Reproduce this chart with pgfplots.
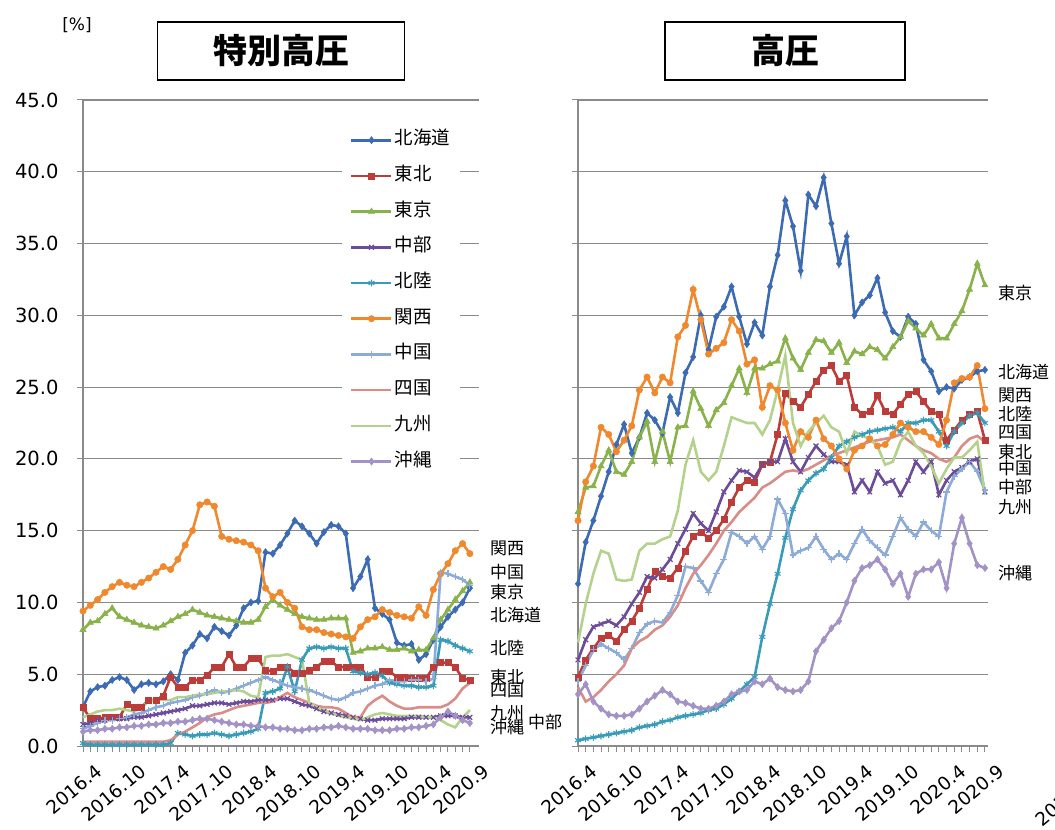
\documentclass[border=0pt]{standalone}
\usepackage{fontspec}
\setmainfont{DejaVu Sans}
\newfontfamily\jp{Noto Sans CJK JP}
\usepackage{pgfplots}
\pgfplotsset{compat=1.18}
\usepackage{pgfplotstable}
\usetikzlibrary{plotmarks}

\definecolor{cHok}{HTML}{3C6BB3}
\definecolor{cToh}{HTML}{BC3C3A}
\definecolor{cTok}{HTML}{8AB24A}
\definecolor{cChb}{HTML}{6C4C99}
\definecolor{cHkr}{HTML}{389BB7}
\definecolor{cKan}{HTML}{F0882E}
\definecolor{cChg}{HTML}{8CABD9}
\definecolor{cShk}{HTML}{DA8C88}
\definecolor{cKyu}{HTML}{B4D28B}
\definecolor{cOki}{HTML}{A292C6}
\definecolor{axgray}{HTML}{8A8A8A}

\pgfplotstableread{
i hok toh tok chb hkr kan chg shk kyu oki
0 2.7 2.7 8.1 1.5 0.2 9.4 1.2 0.3 2.0 1.0
1 3.8 1.9 8.6 1.6 0.1 9.8 1.4 0.3 2.2 1.1
2 4.1 1.9 8.7 1.8 0.1 10.2 1.6 0.3 2.4 1.1
3 4.2 2.0 9.2 1.8 0.1 10.7 1.8 0.3 2.5 1.2
4 4.6 2.0 9.6 1.9 0.1 11.1 1.8 0.3 2.5 1.2
5 4.8 2.0 9.0 1.9 0.1 11.4 1.9 0.3 2.6 1.3
6 4.6 2.9 8.8 1.9 0.1 11.2 2.0 0.3 2.5 1.3
7 3.9 2.7 8.6 2.0 0.1 11.1 2.2 0.3 2.4 1.4
8 4.3 2.7 8.4 2.0 0.1 11.4 2.3 0.3 2.7 1.4
9 4.4 3.2 8.3 2.1 0.1 11.7 2.5 0.3 3.1 1.5
10 4.3 3.2 8.2 2.2 0.1 12.1 2.7 0.3 3.3 1.5
11 4.5 3.5 8.4 2.3 0.1 12.5 2.8 0.3 3.2 1.6
12 5.0 4.8 8.7 2.4 0.2 12.3 3.0 0.4 3.2 1.6
13 4.6 4.1 9.0 2.5 0.9 13.0 3.1 0.8 3.4 1.7
14 6.5 4.1 9.2 2.6 0.8 14.0 3.2 1.0 3.4 1.7
15 7.0 4.6 9.5 2.8 0.7 15.0 3.4 1.3 3.5 1.8
16 7.8 4.6 9.3 2.8 0.8 16.8 3.5 1.6 3.6 1.9
17 7.5 4.9 9.1 2.9 0.8 17.0 3.7 2.0 3.6 1.9
18 8.3 5.5 9.0 3.0 0.9 16.7 3.9 2.2 3.7 1.8
19 8.0 5.5 8.9 3.0 0.8 14.6 3.7 2.3 3.8 1.7
20 7.7 6.4 8.8 2.9 0.7 14.4 3.8 2.5 3.8 1.6
21 8.4 5.5 8.7 3.0 0.8 14.3 4.0 2.7 3.9 1.5
22 9.6 5.5 8.6 3.1 0.9 14.2 4.2 2.8 3.8 1.5
23 10.0 6.1 8.6 3.1 1.0 14.0 4.4 2.9 3.5 1.4
24 10.1 6.1 8.8 3.2 1.2 13.6 4.6 3.0 3.4 1.4
25 13.5 5.3 9.7 3.2 3.7 11.0 4.8 3.0 6.2 1.3
26 13.4 5.2 10.2 3.2 3.8 10.4 4.6 3.1 6.3 1.3
27 14.0 5.5 9.8 3.3 4.0 10.7 4.4 3.4 6.3 1.2
28 14.8 5.5 9.5 3.3 5.5 10.0 4.2 3.7 6.4 1.2
29 15.7 5.1 9.2 3.1 3.8 9.6 4.1 3.4 6.2 1.1
30 15.3 5.1 9.0 2.9 6.0 8.3 4.0 3.2 6.0 1.1
31 14.8 5.3 8.9 2.8 6.8 8.1 3.9 3.0 3.0 1.2
32 14.1 5.5 8.8 2.6 6.9 8.1 3.7 2.8 2.7 1.2
33 14.9 5.9 8.8 2.4 6.8 7.9 3.5 2.7 2.5 1.3
34 15.4 5.9 8.9 2.3 6.9 7.8 3.3 2.7 2.3 1.3
35 15.3 5.5 8.9 2.2 6.8 7.7 3.2 2.6 2.1 1.4
36 14.8 5.5 8.9 2.1 6.8 7.6 3.4 2.3 2.0 1.3
37 11.0 5.5 6.5 2.0 5.2 7.5 3.7 2.0 1.9 1.2
38 11.8 5.5 6.6 1.9 5.1 8.3 3.8 2.0 1.8 1.2
39 13.0 4.8 6.8 1.8 5.0 8.8 4.0 2.8 2.0 1.2
40 9.6 4.8 6.8 1.8 5.1 9.0 4.2 3.2 2.2 1.1
41 9.2 5.2 6.9 1.9 4.9 9.5 4.3 3.5 2.3 1.1
42 8.8 5.2 6.7 1.9 4.4 9.3 4.6 3.1 2.2 1.1
43 7.2 4.8 6.7 1.9 4.3 9.1 4.5 2.8 2.1 1.2
44 7.0 4.8 6.8 1.9 4.2 9.0 4.5 2.6 2.1 1.2
45 7.1 4.7 6.6 2.0 4.2 8.9 4.6 2.6 2.1 1.3
46 6.0 4.7 6.7 2.0 4.1 9.7 4.6 2.7 2.1 1.3
47 6.4 4.7 6.7 2.0 4.1 9.1 4.5 2.7 2.0 1.4
48 7.4 5.5 7.5 2.0 4.2 10.9 4.7 2.7 2.0 1.5
49 8.3 5.8 8.8 2.1 7.4 12.0 12.1 2.7 1.8 2.0
50 9.0 5.8 9.5 2.1 7.3 12.7 12.0 2.9 1.5 2.4
51 9.5 5.5 10.2 2.1 7.0 13.6 11.8 3.3 1.3 2.1
52 10.0 4.7 10.8 2.0 6.8 14.1 11.6 4.0 2.0 1.8
53 11.0 4.6 11.4 2.0 6.6 13.4 11.2 4.4 2.5 1.6
}\Ltab

\pgfplotstableread{
i hok toh tok chb hkr kan chg shk kyu oki
0 11.3 4.8 16.3 6.0 0.4 15.7 4.5 4.1 7.2 3.6
1 14.2 6.0 18.0 7.4 0.5 18.4 5.6 3.1 9.9 4.3
2 15.7 6.8 18.1 8.3 0.6 19.5 6.7 3.4 12.0 3.1
3 17.4 7.5 19.5 8.5 0.7 22.2 7.1 3.9 13.6 2.6
4 19.1 7.7 20.6 8.7 0.8 21.7 6.8 4.5 13.4 2.2
5 21.0 7.3 19.1 8.4 0.9 20.5 6.5 5.0 11.6 2.1
6 22.4 8.1 18.9 9.0 1.0 21.3 6.0 5.6 11.5 2.1
7 20.4 8.7 19.8 9.9 1.1 22.3 6.8 6.8 11.6 2.2
8 21.5 9.6 21.5 10.7 1.3 24.8 7.9 7.3 13.6 2.6
9 23.2 10.9 22.6 11.8 1.4 25.7 8.5 7.6 14.1 3.1
10 22.7 12.2 19.8 11.7 1.5 24.6 8.7 8.1 14.1 3.5
11 21.8 11.8 21.9 12.3 1.7 25.7 8.6 8.4 14.4 3.9
12 24.3 11.7 19.8 13.0 1.8 25.3 9.3 9.0 14.6 3.6
13 23.2 12.4 22.2 14.1 2.0 28.5 10.5 9.8 16.4 3.1
14 26.0 13.6 22.3 15.1 2.1 29.3 12.5 11.0 19.6 3.0
15 27.1 14.6 24.7 16.2 2.2 31.8 12.4 12.0 21.3 2.8
16 30.0 14.9 23.5 15.5 2.3 29.7 11.5 12.6 19.1 2.6
17 27.6 14.5 22.3 15.0 2.5 27.3 10.7 13.3 18.5 2.6
18 29.9 15.0 23.4 16.3 2.6 27.7 12.0 14.1 19.1 2.8
19 30.6 15.8 23.9 17.7 2.9 28.1 13.0 15.0 20.9 3.1
20 32.0 17.0 25.1 18.5 3.3 29.7 14.9 15.6 22.9 3.6
21 29.9 18.0 26.3 19.2 3.8 28.9 14.6 16.3 22.7 3.8
22 28.0 18.5 24.6 19.1 4.3 26.6 14.1 16.8 22.5 3.9
23 29.5 18.4 26.3 18.7 4.8 26.9 14.6 17.3 22.5 4.5
24 28.6 19.6 26.3 19.6 7.6 23.6 13.7 18.0 21.7 4.3
25 32.0 19.8 26.6 19.8 9.9 25.1 14.6 18.3 22.7 4.7
26 34.2 21.7 26.8 19.8 12.0 24.8 17.2 18.7 24.8 4.1
27 38.0 24.6 28.4 21.4 14.5 22.5 16.2 19.1 27.2 3.9
28 36.2 24.0 27.0 19.8 16.5 20.6 13.3 19.2 22.5 3.8
29 33.1 23.6 26.2 19.1 17.8 21.9 13.6 19.1 20.9 3.9
30 38.4 24.5 27.4 20.1 18.5 21.5 13.8 19.3 21.9 4.5
31 37.6 25.4 28.3 20.9 19.0 22.7 14.6 19.6 22.5 6.6
32 39.6 26.2 28.2 20.3 19.3 21.4 13.7 19.9 23.0 7.4
33 36.4 26.5 27.4 19.8 20.1 20.9 13.0 20.2 22.2 8.2
34 33.6 25.4 28.1 19.8 20.9 20.0 13.4 20.4 21.9 8.7
35 35.5 25.8 26.7 19.6 21.2 19.3 13.0 20.6 20.4 10.0
36 30.0 23.6 27.5 17.7 21.5 20.6 14.1 20.8 21.9 11.5
37 30.9 23.1 27.3 18.5 21.7 20.9 15.1 21.0 21.6 12.4
38 31.4 23.3 27.8 17.7 21.9 21.4 14.3 21.2 21.4 12.6
39 32.6 24.4 27.6 19.1 22.0 20.9 13.8 21.3 20.9 13.0
40 30.2 23.3 27.0 18.3 22.1 21.0 13.3 21.4 19.6 12.3
41 28.9 23.1 27.8 18.5 22.2 21.7 14.6 21.5 19.8 11.3
42 28.5 23.8 28.5 17.5 21.9 22.5 15.9 21.7 21.2 12.0
43 29.9 24.5 29.6 18.5 22.5 22.2 15.1 21.3 21.9 10.4
44 29.4 24.7 29.1 19.8 22.5 21.9 14.6 20.9 20.9 12.0
45 26.9 24.0 28.6 19.1 22.7 21.9 15.6 20.6 20.4 12.3
46 26.1 23.3 29.4 19.8 22.7 21.5 15.0 20.4 19.5 12.3
47 24.7 23.1 28.4 17.5 21.9 21.0 14.6 20.0 18.3 12.8
48 25.0 21.3 28.4 18.5 20.9 22.7 17.7 19.8 19.3 11.0
49 24.9 22.0 29.4 19.1 21.9 25.3 18.8 20.1 20.1 14.1
50 25.5 22.7 30.3 19.4 22.5 25.6 19.3 20.9 20.1 15.9
51 25.7 23.1 31.8 19.8 23.0 25.7 19.8 21.4 20.6 14.1
52 26.1 23.3 33.6 20.0 23.2 26.5 19.1 21.6 21.2 12.6
53 26.2 21.3 32.1 17.7 22.5 23.5 17.8 21.2 17.5 12.4
}\Rtab

\pgfplotsset{
  panel/.style={
    scale only axis, height=646bp, ymin=0, ymax=45, xmin=0,
    axis x line=bottom, axis y line=left,
    every outer x axis line/.append style={-},
    every outer y axis line/.append style={-},
    x axis line style={-, draw=axgray, line width=1.4bp},
    y axis line style={-, draw=axgray, line width=1.4bp},
    ytick={0,5,...,45},
    ymajorgrids, grid style={draw=axgray, line width=1.2bp},
    xtick={0,6,12,18,24,30,36,42,48,53},
    xticklabels={2016.4,2016.10,2017.4,2017.10,2018.4,2018.10,2019.4,2019.10,2020.4,2020.9},
    minor xtick={0,1,...,53},
    tick align=outside, major tick length=6bp, minor tick length=6bp,
    tick style={draw=axgray, line width=1bp},
    minor tick style={draw=axgray, line width=1bp},
    x tick label style={font=\fontsize{18.5bp}{20bp}\selectfont, rotate=40, anchor=east, inner sep=1bp, yshift=-23bp, xshift=3bp},
    y tick label style={font=\fontsize{19.5bp}{21bp}\selectfont, xshift=-15bp},
    clip=false,
  },
  lw/.style={line width=2.6bp},
  sHok/.style={lw, color=cHok, mark=diamond*, mark size=3.6bp, mark options={line width=0.5bp}},
  sToh/.style={lw, color=cToh, mark=square*, mark size=3.0bp, mark options={line width=0.5bp}},
  sTok/.style={lw, color=cTok, mark=triangle*, mark size=3.6bp, mark options={line width=0.5bp}},
  sChb/.style={lw, color=cChb, mark=x, mark size=3.4bp, mark options={line width=1.2bp}},
  sHkr/.style={lw, color=cHkr, mark=asterisk, mark size=3.4bp, mark options={line width=1.1bp}},
  sKan/.style={lw, color=cKan, mark=*, mark size=3.2bp, mark options={line width=0.5bp}},
  sChg/.style={lw, color=cChg, mark=+, mark size=3.4bp, mark options={line width=1.2bp}},
  sShk/.style={lw, color=cShk, mark=none},
  sKyu/.style={lw, color=cKyu, mark=none},
  sOki/.style={lw, color=cOki, mark=diamond*, mark size=3.6bp, mark options={line width=0.5bp}},
}

\newcommand\lab[3]{\node[anchor=west, inner sep=0pt, font=\jp\fontsize{17bp}{17bp}\selectfont] at (#1bp,#2bp) {#3};}

\begin{document}
\begin{tikzpicture}
\path[use as bounding box] (0bp,0bp) rectangle (1055bp,830bp);

% ---------- left panel ----------
\begin{axis}[panel, at={(83bp,84bp)}, anchor=south west, width=396bp, xmax=54.25,
  yticklabels={0.0,5.0,10.0,15.0,20.0,25.0,30.0,35.0,40.0,45.0},
  legend style={at={(0.654,0.9605)}, anchor=north west, draw=none, fill=white,
    font=\jp\fontsize{18.5bp}{20bp}\selectfont, inner xsep=8bp, inner ysep=4bp,
    row sep=14.7bp, nodes={inner sep=2bp, text height=13bp, text depth=4bp}},
  legend cell align=left,
  legend image code/.code={\draw[mark repeat=2,mark phase=2,#1] plot coordinates {(0bp,0bp) (20bp,0bp) (40bp,0bp)};},
]
\addplot[sHok] table[x=i,y=hok]{\Ltab};
\addplot[sToh] table[x=i,y=toh]{\Ltab};
\addplot[sTok] table[x=i,y=tok]{\Ltab};
\addplot[sChb] table[x=i,y=chb]{\Ltab};
\addplot[sHkr] table[x=i,y=hkr]{\Ltab};
\addplot[sKan] table[x=i,y=kan]{\Ltab};
\addplot[sChg] table[x=i,y=chg]{\Ltab};
\addplot[sShk] table[x=i,y=shk]{\Ltab};
\addplot[sKyu] table[x=i,y=kyu]{\Ltab};
\addplot[sOki] table[x=i,y=oki]{\Ltab};
\legend{北海道,東北,東京,中部,北陸,関西,中国,四国,九州,沖縄}
\end{axis}

% ---------- right panel ----------
\begin{axis}[panel, at={(578bp,84bp)}, anchor=south west, width=410bp, xmax=53.4,
  yticklabels={}]
\addplot[sHok] table[x=i,y=hok]{\Rtab};
\addplot[sToh] table[x=i,y=toh]{\Rtab};
\addplot[sTok] table[x=i,y=tok]{\Rtab};
\addplot[sChb] table[x=i,y=chb]{\Rtab};
\addplot[sHkr] table[x=i,y=hkr]{\Rtab};
\addplot[sKan] table[x=i,y=kan]{\Rtab};
\addplot[sChg] table[x=i,y=chg]{\Rtab};
\addplot[sShk] table[x=i,y=shk]{\Rtab};
\addplot[sKyu] table[x=i,y=kyu]{\Rtab};
\addplot[sOki] table[x=i,y=oki]{\Rtab};
\end{axis}

% titles
\node[draw=black, line width=1.3bp, minimum width=247bp, minimum height=58bp, inner sep=0pt,
  font=\jp\bfseries\fontsize{34bp}{34bp}\selectfont] at (281bp,779bp) {特別高圧};
\node[draw=black, line width=1.3bp, minimum width=240bp, minimum height=58bp, inner sep=0pt,
  font=\jp\bfseries\fontsize{34bp}{34bp}\selectfont] at (785bp,779bp) {高圧};
\node[font=\fontsize{17bp}{17bp}\selectfont] at (77bp,805bp) {[\%]};

% end labels, left panel
\lab{490}{282}{関西}
\lab{490}{258}{中国}
\lab{490}{238}{東京}
\lab{490}{215}{北海道}
\lab{490}{182}{北陸}
\lab{490}{153}{東北}
\lab{490}{140}{四国}
\lab{490}{117}{九州}
\lab{528}{108}{中部}
\lab{490}{103}{沖縄}

% end labels, right panel
\lab{998}{537}{東京}
\lab{998}{458}{北海道}
\lab{998}{435}{関西}
\lab{998}{416}{北陸}
\lab{998}{398}{四国}
\lab{998}{378}{東北}
\lab{998}{362}{中国}
\lab{998}{343}{中部}
\lab{998}{323}{九州}
\lab{998}{257}{沖縄}

% cut-off label of a third chart
\node[rotate=40, anchor=west, inner sep=0pt, font=\fontsize{18.5bp}{20bp}\selectfont] at (1038bp,8bp) {2016.4};
\end{tikzpicture}
\end{document}
